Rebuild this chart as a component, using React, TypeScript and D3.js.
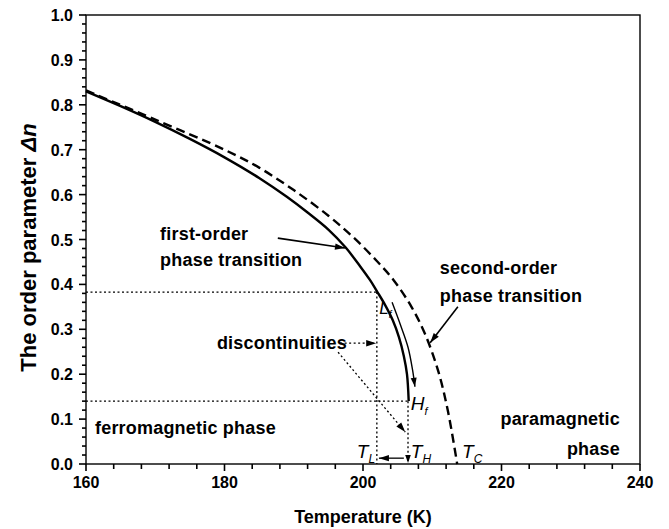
import React from "react";
import * as d3 from "d3";

// ---- data (temperature K, order parameter Δn) ----
const firstOrderT = [160, 165, 170, 175, 180, 185, 189, 192, 195, 197.5, 199.6, 201, 202, 203.2, 204.3, 205.2, 205.9, 206.35, 206.6];
const firstOrderDn = [0.83, 0.797, 0.762, 0.724, 0.683, 0.637, 0.595, 0.56, 0.522, 0.482, 0.44, 0.41, 0.385, 0.354, 0.32, 0.282, 0.24, 0.2, 0.14];
const secondOrderT = [160, 170, 180, 185, 190, 195, 198.6, 202, 204.4, 207, 209, 210.9, 212.3, 213.6];
const secondOrderDn = [0.832, 0.767, 0.7, 0.66, 0.61, 0.553, 0.505, 0.452, 0.41, 0.35, 0.288, 0.205, 0.115, 0];
const guideT = [204.2, 205.4, 206.5, 207.15, 207.5];
const guideDn = [0.36, 0.31, 0.26, 0.21, 0.172];
const xTicks = [160, 180, 200, 220, 240];
const yTicks = [0, 0.1, 0.2, 0.3, 0.4, 0.5, 0.6, 0.7, 0.8, 0.9, 1.0];
const T_L = 202, T_H = 206.5, T_C = 213.6;
const DN_L = 0.383, DN_H = 0.14;

const W = 669, H = 529;
const FONT = "'Liberation Sans', Arial, sans-serif";

export default function App() {
  const x = d3.scaleLinear().domain([160, 240]).range([86, 640]);
  const y = d3.scaleLinear().domain([0, 1]).range([464, 15]);
  const line = d3.line<[number, number]>().x(d => x(d[0])).y(d => y(d[1])).curve(d3.curveCatmullRom.alpha(0.5));
  const zip = (a: number[], b: number[]) => a.map((v, i) => [v, b[i]] as [number, number]);

  const minorX = d3.range(160, 240.01, 4);
  const minorY = d3.range(0, 1.001, 0.02);

  const head = (x1: number, y1: number, x2: number, y2: number, len = 10, wid = 3.2) => {
    const a = Math.atan2(y2 - y1, x2 - x1);
    const bx = x2 - len * Math.cos(a), by = y2 - len * Math.sin(a);
    const px = -Math.sin(a) * wid, py = Math.cos(a) * wid;
    return `M${x2},${y2}L${bx + px},${by + py}L${bx - px},${by - py}Z`;
  };
  const arrow = (t1: number, d1: number, t2: number, d2: number, dash?: string, key?: string, sw = 1.5) => {
    const X1 = x(t1), Y1 = y(d1), X2 = x(t2), Y2 = y(d2);
    return (
      <g key={key}>
        <line x1={X1} y1={Y1} x2={X2} y2={Y2} stroke="#000" strokeWidth={sw} strokeDasharray={dash} />
        <path d={head(X1, Y1, X2, Y2)} fill="#000" />
      </g>
    );
  };

  const gPts = zip(guideT, guideDn);
  const gl = gPts.length;
  const gA = [x(gPts[gl - 2][0]), y(gPts[gl - 2][1])];
  const gB = [x(gPts[gl - 1][0]), y(gPts[gl - 1][1])];

  const ann = { fontFamily: FONT, fontSize: 18, fontWeight: "bold" as const, letterSpacing: 0.2 };
  const ital = { fontFamily: FONT, fontSize: 19, fontStyle: "italic" as const };

  return (
    <svg width={W} height={H} style={{ position: "absolute", left: 0, top: 0, background: "#fff" }}>
      {/* frame */}
      <rect x={x(160)} y={y(1)} width={x(240) - x(160)} height={y(0) - y(1)} fill="none" stroke="#000" strokeWidth={1.4} />
      {/* x ticks */}
      {minorX.map(t => (
        <line key={"mx" + t} x1={x(t)} x2={x(t)} y1={y(0)} y2={y(0) + (xTicks.includes(Math.round(t)) ? 7 : 5)} stroke="#000" strokeWidth={1.6} />
      ))}
      {xTicks.map(t => (
        <text key={"xt" + t} x={x(t)} y={y(0) + 24} textAnchor="middle" fontFamily={FONT} fontSize={16} fontWeight="bold">{t}</text>
      ))}
      {/* y ticks */}
      {minorY.map((v, i) => (
        <line key={"my" + i} x1={x(160)} x2={x(160) - (i % 5 === 0 ? 7 : 4)} y1={y(v)} y2={y(v)} stroke="#000" strokeWidth={1.6} />
      ))}
      {yTicks.map(v => (
        <text key={"yt" + v} x={x(160) - 13} y={y(v) + 6} textAnchor="end" fontFamily={FONT} fontSize={16} fontWeight="bold">{v.toFixed(1)}</text>
      ))}
      {/* axis titles */}
      <text x={(x(160) + x(240)) / 2} y={H - 6} textAnchor="middle" fontFamily={FONT} fontSize={18} fontWeight="bold">Temperature (K)</text>
      <text transform={`translate(36,${(y(0) + y(1)) / 2 + 8}) rotate(-90)`} textAnchor="middle" fontFamily={FONT} fontSize={22} fontWeight="bold">
        The order parameter <tspan fontStyle="italic">Δn</tspan>
      </text>

      {/* dotted guide lines */}
      <line x1={x(160)} x2={x(T_L)} y1={y(DN_L)} y2={y(DN_L)} stroke="#000" strokeWidth={1.3} strokeDasharray="2,2.5" />
      <line x1={x(T_L)} x2={x(T_L)} y1={y(DN_L)} y2={y(0)} stroke="#000" strokeWidth={1.3} strokeDasharray="2,2.5" />
      <line x1={x(160)} x2={x(T_H)} y1={y(DN_H)} y2={y(DN_H)} stroke="#000" strokeWidth={1.3} strokeDasharray="2,2.5" />
      <line x1={x(T_H)} x2={x(T_H)} y1={y(DN_H)} y2={y(0) - 3} stroke="#000" strokeWidth={1.3} strokeDasharray="2,2.5" />
      <path d={head(x(T_H), y(0.05), x(T_H), y(0) - 1, 8, 2.8)} fill="#000" />

      {/* curves */}
      <path d={line(zip(secondOrderT, secondOrderDn)) || ""} fill="none" stroke="#000" strokeWidth={2.4} strokeDasharray="9,5" />
      <path d={line(zip(firstOrderT, firstOrderDn)) || ""} fill="none" stroke="#000" strokeWidth={2.4} />
      <path d={line(gPts) || ""} fill="none" stroke="#000" strokeWidth={1.4} />
      <path d={head(gA[0], gA[1], gB[0], gB[1], 9, 3)} fill="#000" />

      {/* annotation arrows */}
      {arrow(187.7, 0.503, 197.4, 0.481, undefined, "a1", 1.6)}
      {arrow(213.7, 0.35, 209.7, 0.27, undefined, "a2", 1.6)}
      {arrow(196.7, 0.269, 201.9, 0.269, "2,2.5", "a3", 1.3)}
      {arrow(196.4, 0.249, 206.1, 0.071, "2,2.5", "a4", 1.3)}
      {arrow(205.9, 0.013, 202.3, 0.013, undefined, "a5", 1.3)}

      {/* text labels */}
      <text x={x(170.7)} y={y(0.499)} {...ann}>first-order</text>
      <text x={x(170.7)} y={y(0.441)} {...ann}>phase transition</text>
      <text x={x(211.1)} y={y(0.423)} {...ann}>second-order</text>
      <text x={x(211.1)} y={y(0.361)} {...ann}>phase transition</text>
      <text x={x(178.9)} y={y(0.256)} {...ann}>discontinuities</text>
      <text x={x(161.3)} y={y(0.067)} {...ann}>ferromagnetic phase</text>
      <text x={x(237.1)} y={y(0.087)} textAnchor="end" {...ann}>paramagnetic</text>
      <text x={x(237.1)} y={y(0.02)} textAnchor="end" {...ann}>phase</text>

      <text x={x(202.35)} y={y(0.335)} fontFamily={FONT} fontSize={17} fontStyle="italic">L<tspan fontSize={10} dy={4}>f</tspan></text>
      <text x={x(206.9)} y={y(0.12)} {...ital}>H<tspan fontSize={11} dy={5}>f</tspan></text>
      <text x={x(199.1)} y={y(0.013)} {...ital}>T<tspan fontSize={12} dy={5}>L</tspan></text>
      <text x={x(206.9)} y={y(0.013)} {...ital}>T<tspan fontSize={12} dy={5}>H</tspan></text>
      <text x={x(214.3)} y={y(0.013)} {...ital}>T<tspan fontSize={12} dy={5}>C</tspan></text>
    </svg>
  );
}
